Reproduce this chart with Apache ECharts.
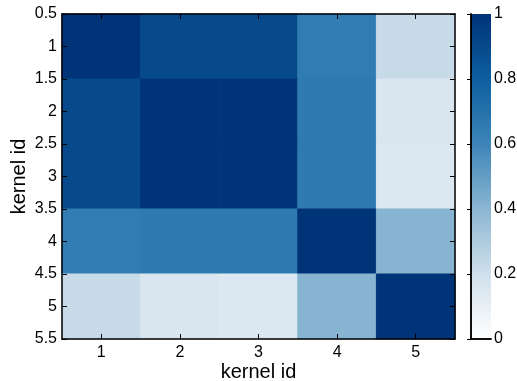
<!DOCTYPE html>
<html lang="en">
<head>
  <meta charset="UTF-8">
  <title>kernel similarity</title>
  <script src="https://cdn.jsdelivr.net/npm/echarts@6/dist/echarts.min.js"></script>
</head>
<body style="margin:0">
  <div id="main" style="width:517px;height:381px;"></div>
  <script>
    // kernel ids (rows / columns)
    var kernels = [1, 2, 3, 4, 5]
    // similarity matrix, row by row
    var row1 = [1.00, 0.90, 0.90, 0.65, 0.23]
    var row2 = [0.90, 1.00, 1.00, 0.66, 0.16]
    var row3 = [0.90, 1.00, 1.00, 0.66, 0.15]
    var row4 = [0.65, 0.66, 0.66, 1.00, 0.41]
    var row5 = [0.23, 0.16, 0.15, 0.41, 1.00]
    var rows = [row1, row2, row3, row4, row5]
    var yTicks = [0.5, 1, 1.5, 2, 2.5, 3, 3.5, 4, 4.5, 5, 5.5]
    var barTicks = [0, 0.2, 0.4, 0.6, 0.8, 1]
    var blues = ['#ffffff', '#d0e0ec', '#8bb6d2', '#3d85b8', '#0d5f9e', '#003478']

    var cells = []
    rows.forEach(function (r, i) {
      r.forEach(function (v, j) {
        cells.push([kernels[j], kernels[i], v])
      })
    })

    var font = 'Liberation Sans, Arial, sans-serif'
    var black = '#000'

    // an axis used only as a frame edge
    function edge(grid, pos, min, max) {
      return {
        type: 'value', gridIndex: grid, position: pos, min: min, max: max,
        z: 10,
        axisLine: { lineStyle: { color: black, width: 1.5 } },
        axisTick: { show: false }, axisLabel: { show: false }, splitLine: { show: false }
      }
    }

    var myChart = echarts.init(document.getElementById('main'))
    var options = {
      animation: false,
      textStyle: { fontFamily: font },
      grid: [
        { left: 62, top: 14, width: 393, height: 325, outerBoundsMode: 'none', containLabel: false },
        { left: 471, top: 14, width: 20, height: 325, outerBoundsMode: 'none', containLabel: false }
      ],
      xAxis: [
        {
          type: 'value', gridIndex: 0, position: 'bottom', min: 0.5, max: 5.5, z: 10,
          name: 'kernel id', nameLocation: 'middle', nameGap: 23, nameMoveOverlap: false,
          nameTextStyle: { fontSize: 20, color: black, fontFamily: font },
          axisLine: { lineStyle: { color: black, width: 1.5 } },
          axisTick: { inside: true, length: 5, customValues: kernels, lineStyle: { color: black } },
          axisLabel: { customValues: kernels, fontSize: 16, color: black, margin: 6 },
          splitLine: { show: false }
        },
        {
          type: 'value', gridIndex: 0, position: 'top', min: 0.5, max: 5.5, z: 10,
          axisLine: { lineStyle: { color: black, width: 1.5 } },
          axisTick: { inside: true, length: 5, customValues: kernels, lineStyle: { color: black } },
          axisLabel: { show: false },
          splitLine: { show: false }
        },
        edge(1, 'bottom', 0, 1),
        edge(1, 'top', 0, 1)
      ],
      yAxis: [
        {
          type: 'value', gridIndex: 0, position: 'left', inverse: true,
          min: 0.5, max: 5.5, interval: 0.5, z: 10,
          name: 'kernel id', nameLocation: 'middle', nameGap: 33, nameMoveOverlap: false,
          nameTextStyle: { fontSize: 20, color: black, fontFamily: font },
          axisLine: { lineStyle: { color: black, width: 1.5 } },
          axisTick: { inside: true, length: 5, customValues: yTicks, lineStyle: { color: black } },
          axisLabel: { customValues: yTicks, fontSize: 16, color: black, margin: 5 },
          splitLine: { show: false }
        },
        {
          type: 'value', gridIndex: 0, position: 'right', inverse: true,
          min: 0.5, max: 5.5, interval: 0.5, z: 10,
          axisLine: { lineStyle: { color: black, width: 1.5 } },
          axisTick: { inside: true, length: 5, customValues: yTicks, lineStyle: { color: black } },
          axisLabel: { show: false },
          splitLine: { show: false }
        },
        edge(1, 'left', 0, 1),
        {
          type: 'value', gridIndex: 1, position: 'right', min: 0, max: 1, interval: 0.2, z: 10,
          axisLine: { lineStyle: { color: black, width: 1.5 } },
          axisTick: { inside: true, length: 4, customValues: barTicks, lineStyle: { color: black } },
          axisLabel: { customValues: barTicks, fontSize: 16, color: black, margin: 3 },
          splitLine: { show: false }
        }
      ],
      visualMap: {
        type: 'continuous',
        show: false,
        min: 0,
        max: 1,
        dimension: 2,
        seriesIndex: 0,
        inRange: { color: blues }
      },
      series: [
        {
          type: 'custom',
          xAxisIndex: 0,
          yAxisIndex: 0,
          data: cells,
          encode: { x: 0, y: 1 },
          z: 1,
          renderItem: function (params, api) {
            var x = api.value(0), y = api.value(1)
            var p0 = api.coord([x - 0.5, y - 0.5])
            var p1 = api.coord([x + 0.5, y + 0.5])
            var c = api.visual('color')
            return {
              type: 'rect',
              shape: {
                x: Math.min(p0[0], p1[0]),
                y: Math.min(p0[1], p1[1]),
                width: Math.abs(p1[0] - p0[0]),
                height: Math.abs(p1[1] - p0[1])
              },
              style: { fill: c, stroke: c, lineWidth: 1 }
            }
          }
        },
        {
          // colour bar: one rect over the bar's grid, filled with the same colour stops
          type: 'custom',
          xAxisIndex: 2,
          yAxisIndex: 3,
          data: [[0, 0]],
          z: 1,
          renderItem: function (params, api) {
            var p0 = api.coord([0, 1])
            var p1 = api.coord([1, 0])
            var stops = blues.map(function (col, i) {
              return { offset: 1 - i / (blues.length - 1), color: col }
            })
            return {
              type: 'rect',
              shape: { x: p0[0], y: p0[1], width: p1[0] - p0[0], height: p1[1] - p0[1] },
              style: { fill: new echarts.graphic.LinearGradient(0, 0, 0, 1, stops.reverse()) }
            }
          }
        }
      ]
    }
    myChart.setOption(options)
  </script>
</body>
</html>
